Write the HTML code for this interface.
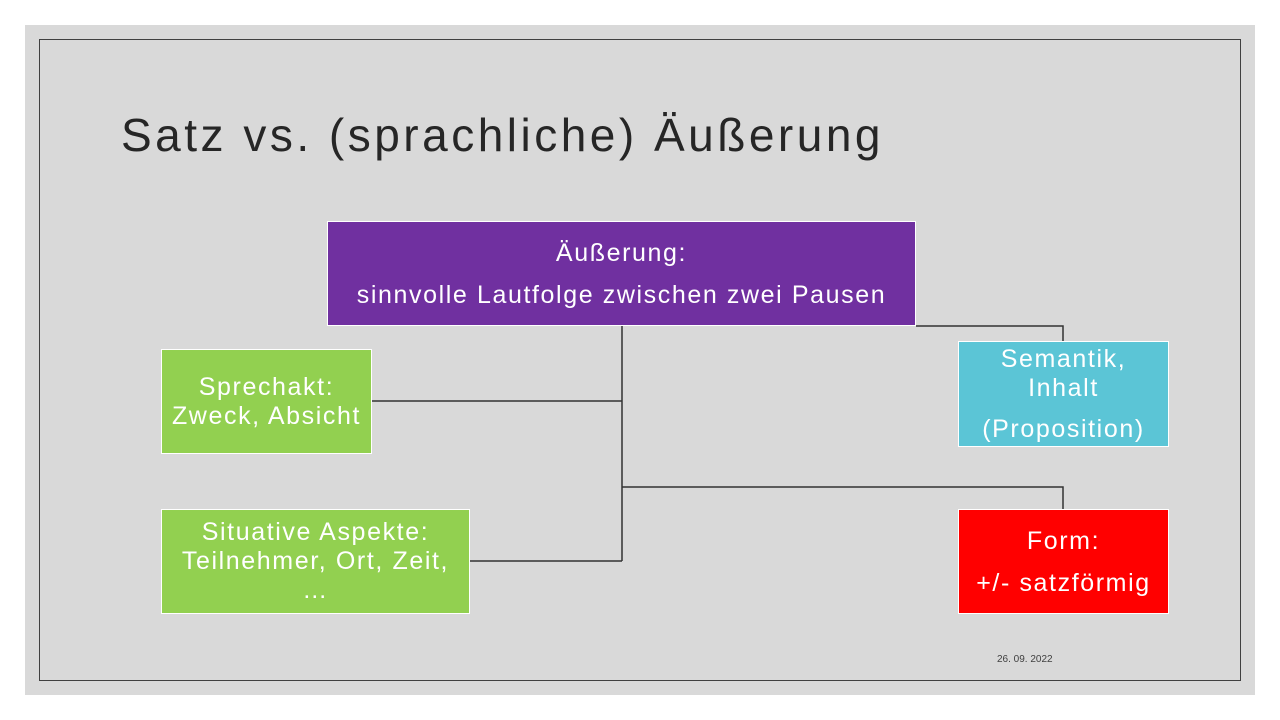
<!DOCTYPE html>
<html><head><meta charset="utf-8"><style>
body{margin:0;width:1280px;height:720px;background:#fff;position:relative;overflow:hidden;font-family:"Liberation Sans",sans-serif}
.slide{position:absolute;left:25px;top:25px;width:1230px;height:670px;background:#d9d9d9}
.frame{position:absolute;left:39px;top:39px;width:1202px;height:642px;border:1px solid #404040;box-sizing:border-box}
.t{position:absolute;left:121px;top:108px;font-size:46px;color:#262626;letter-spacing:3.5px;white-space:nowrap}
.b{position:absolute;box-sizing:border-box;border:1px solid #fff;color:#fff;font-size:25px;text-align:center;display:flex;flex-direction:column;justify-content:center;letter-spacing:1.6px;line-height:29px;white-space:nowrap}
.d{position:absolute;left:997px;top:654px;font-size:10px;color:#404040}
</style></head><body>
<div class="slide"></div><div class="frame"></div>
<div class="t">Satz vs. (sprachliche) Äußerung</div>
<svg width="1280" height="720" style="position:absolute;left:0;top:0">
<g stroke="#333" stroke-width="1.5" fill="none">
<path d="M622 326V561M371 401H622M469 561H622M622 487H1063V509M916 326H1063V341"/>
</g></svg>
<div class="b" style="left:327px;top:221px;width:589px;height:105px;background:#7030a0;line-height:42px">Äußerung:<br>sinnvolle Lautfolge zwischen zwei Pausen</div>
<div class="b" style="left:161px;top:349px;width:211px;height:105px;background:#92d050">Sprechakt:<br>Zweck, Absicht</div>
<div class="b" style="left:161px;top:509px;width:309px;height:105px;background:#92d050">Situative Aspekte:<br>Teilnehmer, Ort, Zeit,<br>…</div>
<div class="b" style="left:958px;top:341px;width:211px;height:106px;background:#5bc5d6;line-height:29px">Semantik,<br>Inhalt<br><span style="margin-top:12px">(Proposition)</span></div>
<div class="b" style="left:958px;top:509px;width:211px;height:105px;background:#ff0000;line-height:42px">Form:<br>+/- satzförmig</div>
<div class="d">26. 09. 2022</div>
</body></html>
